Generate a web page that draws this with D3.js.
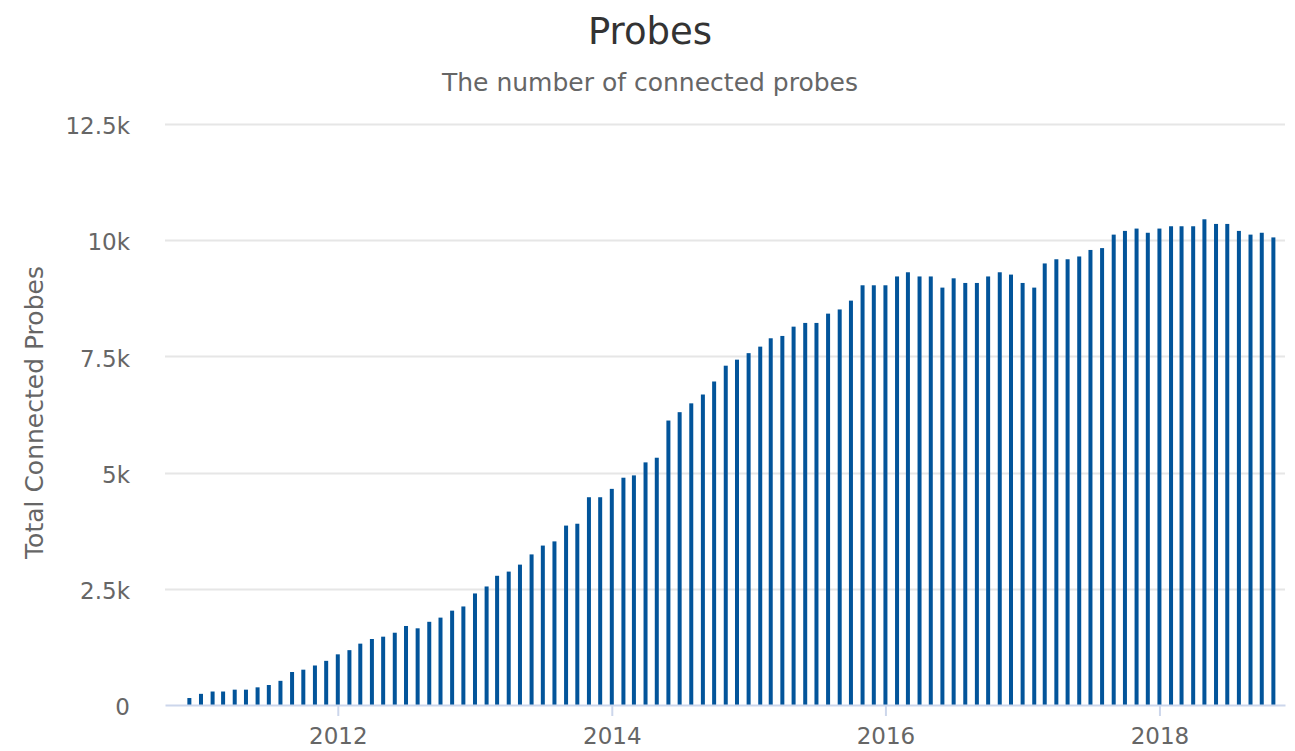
<!DOCTYPE html>
<html>
<head>
<meta charset="utf-8">
<script src="https://cdn.jsdelivr.net/npm/d3@7"></script>
<style>
    body { margin: 0; background: #fff; }
    text { font-family: "DejaVu Sans", sans-serif; }
</style>
</head>
<body>
<svg id="chart" width="1295" height="751"></svg>
<script>
// monthly snapshots
const months = [
    "2010-12",
    "2011-01", "2011-02", "2011-03", "2011-04", "2011-05", "2011-06", "2011-07", "2011-08", "2011-09", "2011-10", "2011-11", "2011-12",
    "2012-01", "2012-02", "2012-03", "2012-04", "2012-05", "2012-06", "2012-07", "2012-08", "2012-09", "2012-10", "2012-11", "2012-12",
    "2013-01", "2013-02", "2013-03", "2013-04", "2013-05", "2013-06", "2013-07", "2013-08", "2013-09", "2013-10", "2013-11", "2013-12",
    "2014-01", "2014-02", "2014-03", "2014-04", "2014-05", "2014-06", "2014-07", "2014-08", "2014-09", "2014-10", "2014-11", "2014-12",
    "2015-01", "2015-02", "2015-03", "2015-04", "2015-05", "2015-06", "2015-07", "2015-08", "2015-09", "2015-10", "2015-11", "2015-12",
    "2016-01", "2016-02", "2016-03", "2016-04", "2016-05", "2016-06", "2016-07", "2016-08", "2016-09", "2016-10", "2016-11", "2016-12",
    "2017-01", "2017-02", "2017-03", "2017-04", "2017-05", "2017-06", "2017-07", "2017-08", "2017-09", "2017-10", "2017-11", "2017-12",
    "2018-01", "2018-02", "2018-03", "2018-04", "2018-05", "2018-06", "2018-07", "2018-08", "2018-09", "2018-10", "2018-11"
]
const probes = [
    150,
    240, 290, 290, 330, 330, 380, 430, 520, 710, 760, 850, 950,
    1090, 1180, 1320, 1420, 1470, 1555, 1700, 1650, 1790, 1880, 2030, 2120,
    2400, 2550, 2780, 2870, 3020, 3240, 3430, 3520, 3860, 3900, 4470, 4470,
    4650, 4890, 4940, 5220, 5320, 6120, 6300, 6490, 6680, 6960, 7300, 7430,
    7570, 7710, 7890, 7940, 8140, 8220, 8220, 8420, 8510, 8700, 9030, 9030,
    9030, 9220, 9310, 9220, 9220, 8980, 9180, 9080, 9080, 9220, 9310, 9260,
    9080, 8980, 9500, 9590, 9590, 9650, 9790, 9830, 10120, 10200, 10250, 10160,
    10250, 10300, 10300, 10300, 10450, 10350, 10350, 10200, 10120, 10160, 10060
]
const yTicks = [0, 2500, 5000, 7500, 10000, 12500]
const yTickLabels = ["0", "2.5k", "5k", "7.5k", "10k", "12.5k"]
const xTickYears = ["2012", "2014", "2016", "2018"]

const svg = d3.select("#chart")
const LEFT = 165
const RIGHT = 1285
const TOP = 124
const BOTTOM = 705
const BAR_COLOR = "#02549a"

const parseMonth = d3.timeParse("%Y-%m")
const data = months.map((m, i) => ({ date: parseMonth(m), value: probes[i] }))

// x: time axis, padded so the first/last bars sit inside the plot
let xs = d3.scaleTime()
    .domain([new Date(2010, 8, 27), new Date(2018, 11, 2)])
    .range([LEFT, RIGHT])

let ys = d3.scaleLinear()
    .domain([0, 12500])
    .range([BOTTOM, TOP])

// title / subtitle
svg.append("text")
    .text("Probes")
    .attr("x", 650)
    .attr("y", 44)
    .style("text-anchor", "middle")
    .style("font-size", "37px")
    .style("fill", "#333333")

svg.append("text")
    .text("The number of connected probes")
    .attr("x", 650)
    .attr("y", 91)
    .style("text-anchor", "middle")
    .style("font-size", "25px")
    .style("fill", "#666666")

// horizontal grid
svg.append("g")
    .selectAll("line")
    .data(yTicks.filter(d => d > 0))
    .enter()
    .append("line")
    .attr("x1", LEFT)
    .attr("x2", RIGHT)
    .attr("y1", d => Math.round(ys(d)) + 0.5)
    .attr("y2", d => Math.round(ys(d)) + 0.5)
    .style("stroke", "#e6e6e6")
    .style("stroke-width", 2)

// y labels
let yAxis = d3.axisLeft(ys)
    .tickValues(yTicks)
    .tickFormat((d, i) => yTickLabels[i])
    .tickSize(0)
    .tickPadding(35)
let gy = svg.append("g")
    .attr("transform", `translate(${LEFT},0)`)
    .call(yAxis)
gy.select(".domain").remove()
gy.selectAll("text")
    .attr("dy", "0.42em")
    .style("font-family", "DejaVu Sans, sans-serif")
    .style("font-size", "23px")
    .style("fill", "#666666")

svg.append("text")
    .text("Total Connected Probes")
    .attr("transform", `translate(43,${(TOP + BOTTOM) / 2 - 2}) rotate(-90)`)
    .style("text-anchor", "middle")
    .style("font-size", "25px")
    .style("fill", "#666666")

// bars
const BAR_W = 4
svg.append("g")
    .selectAll("rect")
    .data(data)
    .enter()
    .append("rect")
    .attr("x", d => xs(d.date) - BAR_W / 2)
    .attr("y", d => ys(d.value))
    .attr("width", BAR_W)
    .attr("height", d => BOTTOM - ys(d.value))
    .style("fill", BAR_COLOR)

// x axis
let xAxis = d3.axisBottom(xs)
    .tickValues(xTickYears.map(y => new Date(+y, 0, 1)))
    .tickFormat(d3.timeFormat("%Y"))
    .tickSize(11)
    .tickSizeOuter(0)
    .tickPadding(12)
let gx = svg.append("g")
    .attr("transform", `translate(0,${BOTTOM})`)
    .call(xAxis)
gx.select(".domain")
    .style("stroke", "#ccd6eb")
    .style("stroke-width", 2)
gx.selectAll(".tick line")
    .style("stroke", "#ccd6eb")
    .style("stroke-width", 2)
gx.selectAll("text")
    .style("font-family", "DejaVu Sans, sans-serif")
    .style("font-size", "23px")
    .style("fill", "#666666")
</script>
</body>
</html>
